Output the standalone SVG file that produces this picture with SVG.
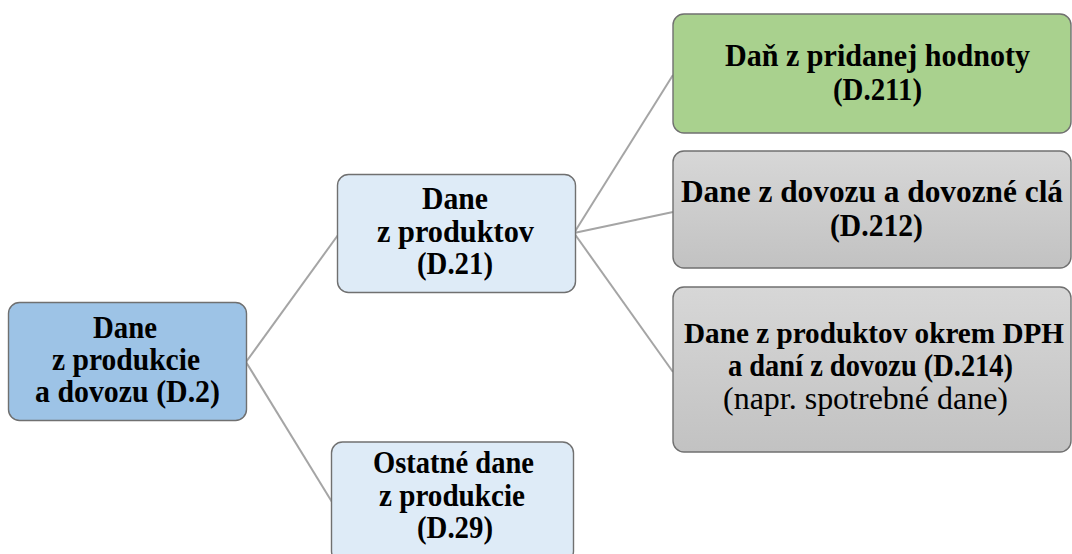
<svg xmlns="http://www.w3.org/2000/svg" width="1072" height="554" viewBox="0 0 1072 554">
  <defs>
    <linearGradient id="gray" x1="0" y1="0" x2="0" y2="1">
      <stop offset="0" stop-color="#D7D7D7"/>
      <stop offset="1" stop-color="#C2C2C2"/>
    </linearGradient>
    <style>
      .box { stroke: #707070; stroke-width: 1.4; }
      .conn { stroke: #A5A5A5; stroke-width: 2; fill: none; }
      text { font-family: "Liberation Serif", "Times New Roman", serif; font-size: 31px; fill: #000; text-anchor: middle; }
      .b { font-weight: bold; }
      .r { font-weight: normal; }
    </style>
  </defs>
  <rect width="1072" height="554" fill="#FFFFFF"/>
  <g id="connectors">
    <line class="conn" x1="246" y1="362" x2="338" y2="235"/>
    <line class="conn" x1="246" y1="362" x2="332" y2="502"/>
    <line class="conn" x1="574" y1="233" x2="673" y2="75"/>
    <line class="conn" x1="574" y1="233" x2="673" y2="212"/>
    <line class="conn" x1="574" y1="233" x2="673" y2="372"/>
  </g>
  <g id="n-d2">
    <rect class="box" x="8.5" y="302.5" width="238" height="118" rx="11" fill="#9DC3E6"/>
    <text class="b" x="125" y="338" textLength="64" lengthAdjust="spacingAndGlyphs">Dane</text>
    <text class="b" x="126" y="370" textLength="148" lengthAdjust="spacingAndGlyphs">z produkcie</text>
    <text class="b" x="127.5" y="402" textLength="185" lengthAdjust="spacingAndGlyphs">a dovozu (D.2)</text>
  </g>
  <g id="n-d21">
    <rect class="box" x="337.5" y="174.5" width="238" height="118" rx="11" fill="#DEEBF7"/>
    <text class="b" x="455" y="209" textLength="66" lengthAdjust="spacingAndGlyphs">Dane</text>
    <text class="b" x="455.5" y="242" textLength="157" lengthAdjust="spacingAndGlyphs">z produktov</text>
    <text class="b" x="455" y="274" textLength="76" lengthAdjust="spacingAndGlyphs">(D.21)</text>
  </g>
  <g id="n-d29">
    <rect class="box" x="331.5" y="442" width="242" height="120" rx="11" fill="#DEEBF7"/>
    <text class="b" x="453.5" y="473" textLength="161" lengthAdjust="spacingAndGlyphs">Ostatné dane</text>
    <text class="b" x="452" y="506" textLength="146" lengthAdjust="spacingAndGlyphs">z produkcie</text>
    <text class="b" x="455" y="538" textLength="76" lengthAdjust="spacingAndGlyphs">(D.29)</text>
  </g>
  <g id="n-d211">
    <rect class="box" x="673" y="14" width="398" height="119" rx="11" fill="#A9D18E"/>
    <text class="b" x="877.5" y="66" textLength="305" lengthAdjust="spacingAndGlyphs">Daň z pridanej hodnoty</text>
    <text class="b" x="877.5" y="100" textLength="89" lengthAdjust="spacingAndGlyphs">(D.211)</text>
  </g>
  <g id="n-d212">
    <rect class="box" x="673" y="151" width="398" height="117" rx="11" fill="url(#gray)"/>
    <text class="b" x="872" y="202" textLength="382" lengthAdjust="spacingAndGlyphs">Dane z dovozu a dovozné clá</text>
    <text class="b" x="876.5" y="236" textLength="93" lengthAdjust="spacingAndGlyphs">(D.212)</text>
  </g>
  <g id="n-d214">
    <rect class="box" x="673" y="287" width="398" height="165" rx="11" fill="url(#gray)"/>
    <text class="b" x="874" y="343" style="font-size:29px" textLength="380" lengthAdjust="spacingAndGlyphs">Dane z produktov okrem DPH</text>
    <text class="b" x="870.5" y="376" textLength="285" lengthAdjust="spacingAndGlyphs">a daní z dovozu (D.214)</text>
    <text class="r" x="865.5" y="409" textLength="285" lengthAdjust="spacingAndGlyphs">(napr. spotrebné dane)</text>
  </g>
</svg>
